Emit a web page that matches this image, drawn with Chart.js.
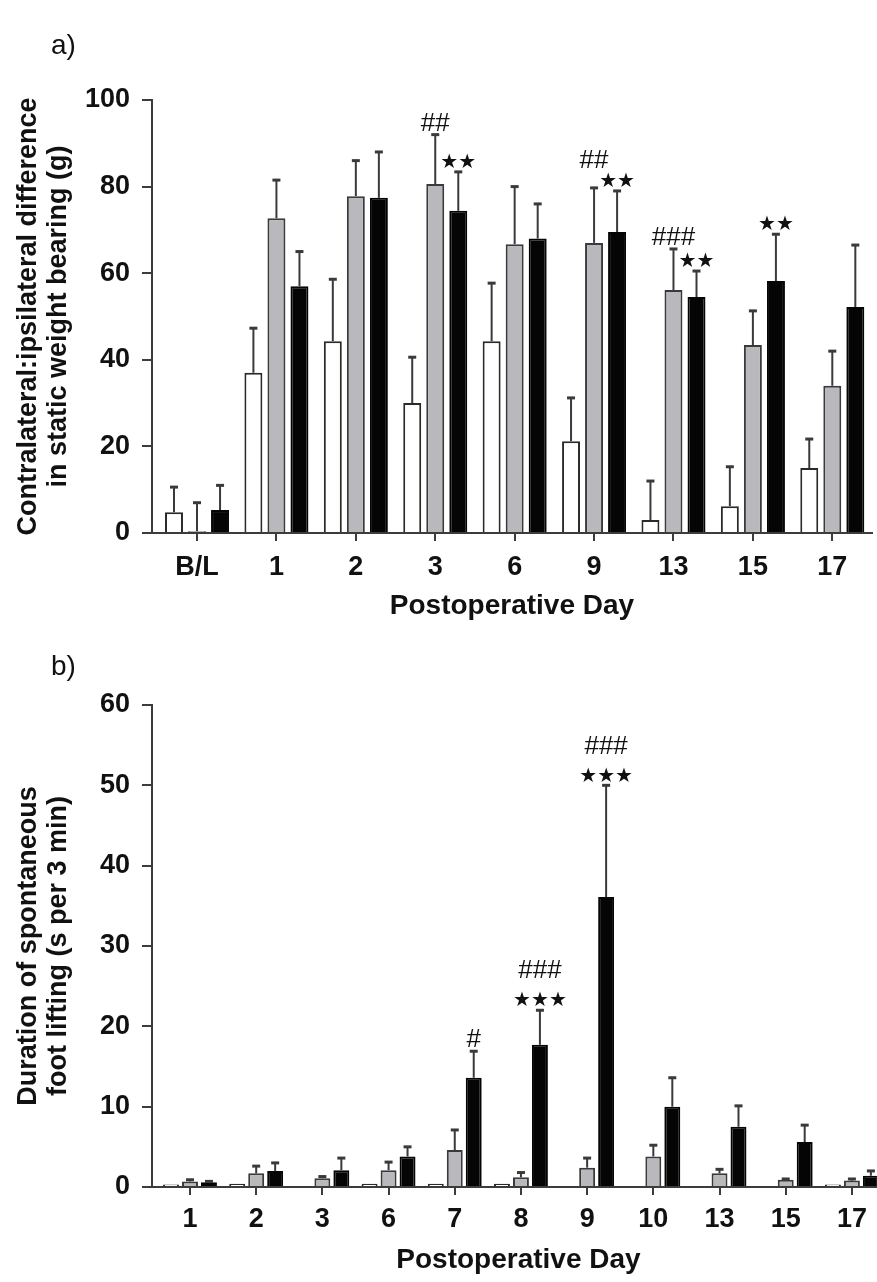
<!DOCTYPE html>
<html><head><meta charset="utf-8">
<script src="https://cdn.jsdelivr.net/npm/chart.js@4.4.1/dist/chart.umd.min.js"></script>
<style>
html,body{margin:0;padding:0;background:#fff;overflow:hidden;width:877px;height:1282px}
#wrap{position:relative;width:877px;height:1282px;overflow:hidden;background:#fff}
.panel{position:absolute;left:0}
.lbl{position:absolute;font:28px "Liberation Sans",Arial,sans-serif;color:#111;line-height:1}
</style></head><body>
<div id="wrap">
  <div class="panel" style="top:0;width:877px;height:640px"><canvas id="c1" width="877" height="640"></canvas></div>
  <div class="panel" style="top:640px;width:890px;height:642px"><canvas id="c2" width="890" height="642"></canvas></div>
  <div class="lbl" style="left:51px;top:31px">a)</div>
  <div class="lbl" style="left:51px;top:652px">b)</div>
</div>
<script>
// ---------- Panel a) data ----------
const daysA = ['B/L','1','2','3','6','9','13','15','17'];
const aWhite    = [4.8, 37.0, 44.3, 30.0, 44.3, 21.2, 3.0, 6.2, 15.0];
const aWhiteSem = [5.8, 10.3, 14.3, 10.6, 13.4, 10.0, 9.0, 9.1, 6.7];
const aGray     = [0.4, 72.7, 77.8, 80.6, 66.7, 67.0, 56.1, 43.4, 34.0];
const aGraySem  = [6.6, 8.8, 8.2, 11.4, 13.3, 12.7, 9.5, 7.9, 8.0];
const aBlack    = [5.3, 57.0, 77.4, 74.4, 68.0, 69.5, 54.5, 58.2, 52.2];
const aBlackSem = [5.7, 8.0, 10.6, 9.0, 8.0, 9.5, 6.0, 10.8, 14.3];
const aTicks = [0, 20, 40, 60, 80, 100];
// significance marks: dataset index (0 white,1 grey,2 black), category index, lines from bottom up
const aMarksDs   = [1, 2, 1, 2, 1, 2, 2];
const aMarksIdx  = [3, 3, 5, 5, 6, 6, 7];
const aMarksText = [['##'], ['★★'], ['##'], ['★★'], ['###'], ['★★'], ['★★']];

// ---------- Panel b) data ----------
const daysB = ['1','2','3','6','7','8','9','10','13','15','17'];
const bWhite    = [0.3, 0.4, 0, 0.4, 0.4, 0.4, 0, 0, 0, 0, 0.3];
const bWhiteSem = [0, 0, 0, 0, 0, 0, 0, 0, 0, 0, 0];
const bGray     = [0.7, 1.7, 1.1, 2.1, 4.6, 1.2, 2.4, 3.8, 1.7, 0.9, 0.8];
const bGraySem  = [0.2, 0.9, 0.2, 1.0, 2.5, 0.6, 1.2, 1.4, 0.5, 0.1, 0.2];
const bBlack    = [0.6, 2.0, 2.1, 3.8, 13.6, 17.7, 36.1, 10.0, 7.5, 5.6, 1.4];
const bBlackSem = [0.1, 1.0, 1.5, 1.2, 3.3, 4.3, 13.9, 3.6, 2.6, 2.1, 0.6];
const bTicks = [0, 10, 20, 30, 40, 50, 60];
const bMarksDs   = [2, 2, 2];
const bMarksIdx  = [4, 5, 6];
const bMarksText = [['#'], ['★★★', '###'], ['★★★', '###']];

// ---------- styles ----------
const INK = '#111';
const AXIS = '#3c3c3c';
const FILL = ['#ffffff', '#b9b9bd', '#050505'];
const EDGE = ['#2a2a2a', '#3a3a3a', '#050505'];
const FAM = '"Liberation Sans", Arial, sans-serif';
const tickFont = {family: FAM, size: 27, weight: 'bold'};
const titleFont = {family: FAM, size: 28, weight: 'bold', lineHeight: 1.2};
const yTitleFont = {family: FAM, size: 27, weight: 'bold', lineHeight: 1.1};

const errorBars = {
  id: 'errorBars',
  afterDatasetsDraw(chart, args, opts) {
    const ctx = chart.ctx, y = chart.scales.y;
    ctx.save();
    ctx.strokeStyle = '#3a3a3a';
    chart.data.datasets.forEach((ds, d) => {
      const meta = chart.getDatasetMeta(d);
      const sem = opts.sems[d];
      meta.data.forEach((bar, i) => {
        const v = ds.data[i].y, e = sem[i];
        if (!e) return;
        const yTop = y.getPixelForValue(v + e);
        ctx.lineWidth = 2;
        ctx.beginPath(); ctx.moveTo(bar.x, bar.y); ctx.lineTo(bar.x, yTop); ctx.stroke();
        ctx.lineWidth = 3;
        ctx.beginPath(); ctx.moveTo(bar.x - 4, yTop); ctx.lineTo(bar.x + 4, yTop); ctx.stroke();
      });
    });
    ctx.restore();
  }
};

const STAR_FONT = 'bold 20px "DejaVu Sans", sans-serif';
const HASH_FONT = '26px "Liberation Sans", Arial, sans-serif';
const sigMarks = {
  id: 'sigMarks',
  afterDatasetsDraw(chart, args, opts) {
    const ctx = chart.ctx, y = chart.scales.y;
    ctx.save();
    ctx.fillStyle = INK;
    ctx.textAlign = 'center';
    ctx.textBaseline = 'middle';
    // place black-series marks first, then lift grey ones that would collide
    const order = opts.ds.map((d, k) => k).sort((a, b) => opts.ds[b] - opts.ds[a]);
    const placed = [];
    order.forEach(k => {
      const d = opts.ds[k], i = opts.idx[k];
      const bar = chart.getDatasetMeta(d).data[i];
      const v = chart.data.datasets[d].data[i].y + opts.sems[d][i];
      const yTop = y.getPixelForValue(v);
      const lines = opts.text[k];
      const first = lines[0];
      const isStar = first.indexOf('★') >= 0;
      ctx.font = isStar ? STAR_FONT : HASH_FONT;
      const w = Math.max(...lines.map(t => { ctx.font = t.indexOf('★') >= 0 ? STAR_FONT : HASH_FONT; return ctx.measureText(t).width; }));
      let yc = yTop - (isStar ? 9 : 11);
      placed.forEach(p => {
        if (Math.abs(p.x - bar.x) < (p.w + w) / 2 && Math.abs(p.yc - yc) < 20) yc = p.yc - 21;
      });
      lines.forEach((t, j) => {
        ctx.font = t.indexOf('★') >= 0 ? STAR_FONT : HASH_FONT;
        ctx.fillText(t, bar.x, yc - j * 30);
      });
      placed.push({x: bar.x, w, yc: yc - (lines.length - 1) * 30});
    });
    ctx.restore();
  }
};

function makeChart(id, labels, series, sems, ticks, marks, geo) {
  const names = ['Sham', 'Vehicle', 'Treatment'];
  return new Chart(document.getElementById(id), {
    type: 'bar',
    data: {
      datasets: series.map((s, d) => ({
        label: names[d],
        data: s.map((v, i) => ({x: i, y: v})),
        backgroundColor: FILL[d],
        borderColor: EDGE[d],
        borderWidth: 2,
        categoryPercentage: geo.catPct,
        barPercentage: geo.barPct
      }))
    },
    options: {
      responsive: false,
      animation: false,
      layout: {padding: geo.padding},
      plugins: {
        legend: {display: false},
        tooltip: {enabled: false},
        errorBars: {sems},
        sigMarks: {ds: marks[0], idx: marks[1], text: marks[2], sems}
      },
      scales: {
        x: {
          type: 'linear', offset: false,
          min: geo.xmin, max: labels.length - 0.5,
          afterBuildTicks: s => { s.ticks = labels.map((_, i) => ({value: i})); },
          afterFit: s => { s.height = geo.xHeight; },
          ticks: {callback: v => labels[v], font: tickFont, color: INK, padding: geo.xPad, autoSkip: false, maxRotation: 0},
          grid: {display: true, offset: false, drawOnChartArea: false, drawTicks: true, tickLength: 8, color: AXIS, lineWidth: 2},
          border: {display: true, color: AXIS, width: 2},
          title: {display: true, text: 'Postoperative Day', font: titleFont, color: INK, padding: {top: 0, bottom: geo.xTitlePad}}
        },
        y: {
          min: ticks[0], max: ticks[ticks.length - 1],
          afterBuildTicks: s => { s.ticks = ticks.map(v => ({value: v})); },
          afterFit: s => { s.width = 152; },
          ticks: {font: tickFont, color: INK, padding: 12},
          grid: {display: true, drawOnChartArea: false, drawTicks: true, tickLength: 10, color: AXIS, lineWidth: 2},
          border: {display: true, color: AXIS, width: 2},
          title: {display: true, text: geo.yTitle, font: yTitleFont, color: INK, padding: {top: 14, bottom: 0}}
        }
      }
    },
    plugins: [errorBars, sigMarks]
  });
}

makeChart('c1', daysA, [aWhite, aGray, aBlack], [aWhiteSem, aGraySem, aBlackSem], aTicks,
  [aMarksDs, aMarksIdx, aMarksText],
  {catPct: 0.87, barPct: 0.78, xmin: -0.567, padding: {top: 100, right: 5, bottom: 0, left: 0},
   xHeight: 107, xPad: 10, xTitlePad: 17,
   yTitle: ['Contralateral:ipsilateral difference', 'in static weight bearing (g)']});

makeChart('c2', daysB, [bWhite, bGray, bBlack], [bWhiteSem, bGraySem, bBlackSem], bTicks,
  [bMarksDs, bMarksIdx, bMarksText],
  {catPct: 0.86, barPct: 0.84, xmin: -0.574, padding: {top: 65, right: 5, bottom: 0, left: 0},
   xHeight: 95, xPad: 8, xTitlePad: 5,
   yTitle: ['Duration of spontaneous', 'foot lifting (s per 3 min)']});
</script>
</body></html>
